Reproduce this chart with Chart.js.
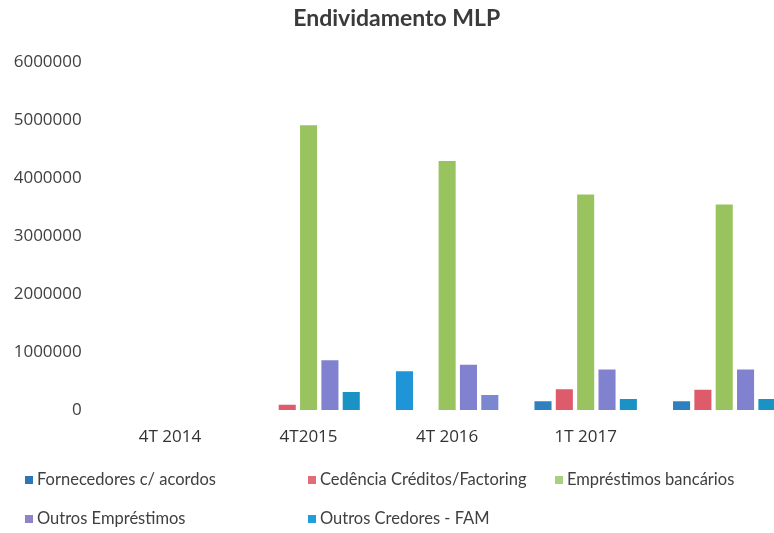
<!DOCTYPE html>
<html><head><meta charset="utf-8">
<script src="https://cdn.jsdelivr.net/npm/chart.js@4"></script>
<style>
html,body{margin:0;padding:0;overflow:hidden;background:#fff;width:774px;height:533px}
#wrap{position:relative;width:800px;height:533px}
</style></head>
<body><div id="wrap"><canvas id="c" width="800" height="533"></canvas></div>
<script>
const categories = ['4T 2014', '4T2015', '4T 2016', '1T 2017', ''];
const seriesNames = ['Fornecedores c/ acordos', 'Cedência Créditos/Factoring', 'Empréstimos bancários', 'Outros Empréstimos', 'Outros Credores - FAM'];
const fornecedores = [0, 0, 670000, 150000, 150000];
const cedencia = [0, 90000, 0, 360000, 350000];
const emprestimosBancarios = [0, 4920000, 4300000, 3720000, 3550000];
const outrosEmprestimos = [0, 860000, 780000, 700000, 700000];
const outrosCredores = [0, 310000, 260000, 190000, 190000];
const yTickValues = [0, 1000000, 2000000, 3000000, 4000000, 5000000, 6000000];
const titleText = 'Endividamento MLP';

const barColors = [
  ['#2e80c0', '#2e80c0', '#1f95d8', '#2e80c0', '#2e80c0'],
  '#dd5b6b',
  '#98c35f',
  '#8081cf',
  ['#1a93c4', '#1a93c4', '#7b88d0', '#1a93c4', '#1a93c4']
];
const legendColors = ['#2e75b6', '#e06c78', '#a9cf82', '#8e84cc', '#1ea0dc'];
const seriesValues = [fornecedores, cedencia, emprestimosBancarios, outrosEmprestimos, outrosCredores];

const gridLegend = {
  id: 'gridLegend',
  afterDraw(chart) {
    const ctx = chart.ctx;
    const cols = [25, 308, 555];
    const rows = [480, 519];
    ctx.save();
    chart.data.datasets.forEach((ds, i) => {
      const x = cols[i % 3], y = rows[Math.floor(i / 3)];
      ctx.fillStyle = legendColors[i];
      ctx.fillRect(x, y - 4, 8, 8);
      ctx.fillStyle = '#404040';
      ctx.font = '16.5px Lato';
      ctx.textBaseline = 'middle';
      ctx.textAlign = 'left';
      ctx.fillText(ds.label, x + 12, y);
    });
    ctx.restore();
  }
};

new Chart(document.getElementById('c'), {
  type: 'bar',
  data: {
    labels: categories,
    datasets: seriesNames.map((n, i) => ({
      label: n,
      data: seriesValues[i],
      backgroundColor: barColors[i],
      borderWidth: 0,
      barPercentage: 0.8,
      categoryPercentage: 0.77
    }))
  },
  options: {
    responsive: false,
    animation: false,
    layout: { padding: { left: 0, right: 6.5, top: 0, bottom: 68.6 } },
    plugins: {
      legend: { display: false },
      tooltip: { enabled: false },
      title: {
        display: true,
        text: titleText,
        color: '#3a3a3a',
        font: { family: 'Lato', size: 23, weight: 'bold' },
        padding: { top: 5, bottom: 30 }
      }
    },
    scales: {
      x: {
        grid: { display: false, drawTicks: false },
        border: { display: false },
        ticks: { color: '#333333', font: { family: 'Open Sans', size: 17 }, padding: 17, maxRotation: 0 }
      },
      y: {
        min: 0, max: 6000000,
        grid: { display: false, drawTicks: false },
        border: { display: false },
        afterBuildTicks(scale) { scale.ticks = yTickValues.map(v => ({ value: v })); },
        afterFit(scale) { scale.width = 100.75; },
        ticks: { color: '#404040', font: { family: 'Open Sans', size: 17 }, padding: 19, callback: v => String(v) }
      }
    }
  },
  plugins: [gridLegend]
});
</script>
</body></html>
